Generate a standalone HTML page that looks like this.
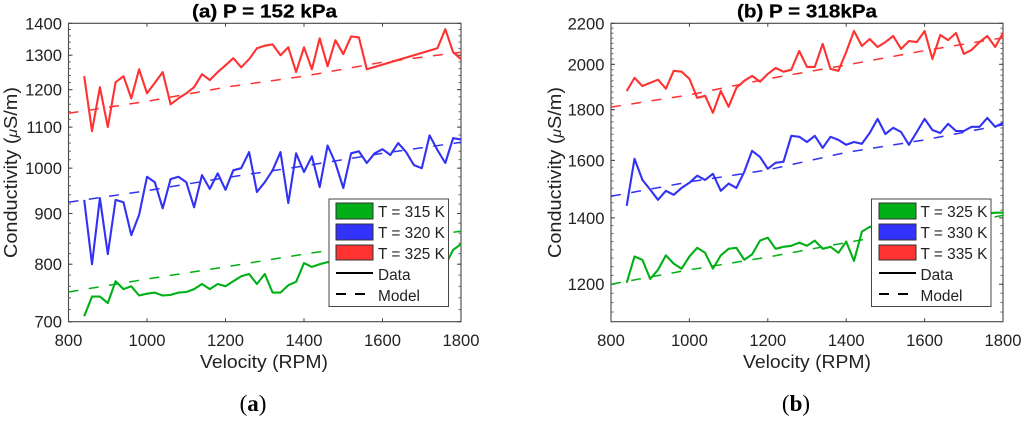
<!DOCTYPE html>
<html>
<head>
<meta charset="utf-8">
<title>Conductivity vs Velocity</title>
<style>
html,body{margin:0;padding:0;background:#fff;width:1024px;height:421px;overflow:hidden}
svg{display:block;font-family:"Liberation Sans",sans-serif}
text{fill:#222}
</style>
</head>
<body>
<svg id="fig" width="1024" height="421" viewBox="0 0 1024 421" xmlns="http://www.w3.org/2000/svg">
<defs><filter id="soft" x="-2%" y="-2%" width="104%" height="104%"><feGaussianBlur stdDeviation="0.35"/></filter></defs>
<g filter="url(#soft)">
<g id="panelA"></g>
<g id="panelB"></g>

<text x="192" y="17.5" font-size="18.5" font-weight="bold" textLength="145" lengthAdjust="spacingAndGlyphs" style="fill:#000;stroke:#000;stroke-width:0.25">(a) P = 152 kPa</text>
<text x="737" y="17.5" font-size="18.5" font-weight="bold" textLength="140" lengthAdjust="spacingAndGlyphs" style="fill:#000;stroke:#000;stroke-width:0.25">(b) P = 318kPa</text>

<text transform="translate(17,258) rotate(-90)" font-size="18" textLength="171" lengthAdjust="spacingAndGlyphs">Conductivity (<tspan font-style="italic" font-size="14">μ</tspan>S/m)</text>
<text transform="translate(561,258) rotate(-90)" font-size="18" textLength="171" lengthAdjust="spacingAndGlyphs">Conductivity (<tspan font-style="italic" font-size="14">μ</tspan>S/m)</text>

<text x="200" y="368" font-size="18" textLength="128" lengthAdjust="spacingAndGlyphs">Velocity (RPM)</text>
<text x="743" y="368" font-size="18" textLength="128" lengthAdjust="spacingAndGlyphs">Velocity (RPM)</text>

<text x="253" y="411" font-size="23" text-anchor="middle" style="font-family:'Liberation Serif',serif;fill:#000">(<tspan font-weight="bold">a</tspan>)</text>
<text x="796" y="411" font-size="23" text-anchor="middle" style="font-family:'Liberation Serif',serif;fill:#000">(<tspan font-weight="bold">b</tspan>)</text>

<g id="legendA">
<rect x="329" y="199" width="119.5" height="107.5" fill="#fff" stroke="#444" stroke-width="1"/>
<rect x="336" y="203" width="37" height="16" fill="#05b015" stroke="#333" stroke-width="1"/>
<rect x="336" y="224" width="37" height="16" fill="#3333ff" stroke="#333" stroke-width="1"/>
<rect x="336" y="245" width="37" height="15" fill="#ff3030" stroke="#333" stroke-width="1"/>
<text x="378" y="217" font-size="15.4">T = 315 K</text>
<text x="378" y="238" font-size="15.4">T = 320 K</text>
<text x="378" y="259" font-size="15.4">T = 325 K</text>
<line x1="336" y1="273" x2="373" y2="273" stroke="#000" stroke-width="2"/>
<text x="378" y="280" font-size="15.4">Data</text>
<line x1="336" y1="294" x2="366" y2="294" stroke="#000" stroke-width="2" stroke-dasharray="10 9"/>
<text x="378" y="301" font-size="15.4">Model</text>
</g>

<g id="legendB">
<rect x="871.5" y="199" width="119.5" height="107.5" fill="#fff" stroke="#444" stroke-width="1"/>
<rect x="879" y="203" width="37" height="16" fill="#05b015" stroke="#333" stroke-width="1"/>
<rect x="879" y="224" width="37" height="16" fill="#3333ff" stroke="#333" stroke-width="1"/>
<rect x="879" y="245" width="37" height="15" fill="#ff3030" stroke="#333" stroke-width="1"/>
<text x="920.5" y="217" font-size="15.4">T = 325 K</text>
<text x="920.5" y="238" font-size="15.4">T = 330 K</text>
<text x="920.5" y="259" font-size="15.4">T = 335 K</text>
<line x1="879" y1="273" x2="916" y2="273" stroke="#000" stroke-width="2"/>
<text x="920.5" y="280" font-size="15.4">Data</text>
<line x1="879" y1="294" x2="909" y2="294" stroke="#000" stroke-width="2" stroke-dasharray="10 9"/>
<text x="920.5" y="301" font-size="15.4">Model</text>
</g>
</g>
</svg>

<script>
const rpm = [840,860,880,900,920,940,960,980,1000,1020,1040,1060,1080,1100,1120,1140,1160,1180,1200,1220,1240,1260,1280,1300,1320,1340,1360,1380,1400,1420,1440,1460,1480,1500,1520,1540,1560,1580,1600,1620,1640,1660,1680,1700,1720,1740,1760,1780,1800];
const modelRpm = [800,1000,1200,1400,1600,1800];
const xTickLabels = [800,1000,1200,1400,1600,1800];

const yTicksA = [700,800,900,1000,1100,1200,1300,1400];
const yTicksB = [1200,1400,1600,1800,2000,2200];

const dataA315 = [709,742,742,731,769,755,760,744,747,749,744,745,749,750,755,764,755,764,760,769,778,782,764,782,749,749,762,768,802,795,800,804,null,null,null,null,null,null,null,null,null,null,null,null,null,null,798,827,838];
const dataA320 = [929,800,933,819,929,924,856,897,980,968,911,975,980,968,913,984,953,988,951,995,1000,1038,946,968,995,1038,922,1035,991,1028,957,1054,1012,955,1035,1040,1012,1035,1045,1031,1060,1038,1007,1000,1079,1043,1012,1072,1069];
const dataA325 = [1238,1090,1207,1100,1221,1238,1176,1258,1190,1219,1250,1160,1176,1190,1207,1244,1227,1250,1270,1291,1264,1288,1321,1329,1333,1300,1324,1250,1324,1258,1352,1267,1346,1303,1358,1355,1258,null,null,null,null,null,null,null,null,1321,1381,1309,1288];
const modelA315 = [750,773,795,819,841,864];
const modelA320 = [924,949,978,1005,1035,1062];
const modelA325 = [1136,1168,1207,1238,1279,1309];

const dataB325 = [1204,1280,1270,1215,1241,1283,1259,1244,1280,1306,1291,1244,1283,1303,1306,1270,1286,1328,1337,1303,1309,1312,1322,1312,1328,1303,1309,1291,1325,1267,1356,1371,null,null,null,null,null,null,null,null,null,null,null,null,null,null,null,1417,1417];
const dataB330 = [1440,1606,1529,1495,1460,1491,1477,1501,1519,1544,1529,1551,1491,1516,1501,1558,1636,1613,1569,1591,1595,1694,1690,1670,1694,1647,1690,1678,1659,1670,1663,1705,1762,1701,1726,1709,1659,1709,1762,1717,1705,1742,1713,1713,1730,1730,1766,1730,1746];
const dataB335 = [1880,1938,1902,1916,1930,1890,1970,1966,1934,1850,1859,1787,1880,1812,1894,1925,1947,1921,1956,1983,1966,1975,2063,1988,1988,2097,1979,1970,2058,2161,2087,2121,2082,2106,2136,2073,2111,2106,2161,2025,2141,2116,2151,2049,2068,2106,2136,2082,2151];
const modelB325 = [1200,1241,1278,1322,1365,1408];
const modelB330 = [1472,1522,1565,1630,1678,1738];
const modelB335 = [1811,1863,1934,1997,2065,2127];

const GREEN = '#05b015', BLUE = '#3030f5', RED = '#ff3030';
const NS = 'http://www.w3.org/2000/svg';

function make(tag, parent, attrs) {
  const el = document.createElementNS(NS, tag);
  for (const k in attrs) el.setAttribute(k, attrs[k]);
  parent.appendChild(el);
  return el;
}

function drawPanel(root, cfg) {
  const L = cfg.left, R = cfg.right, T = 23.3, B = 321.7;
  const sx = v => L + (v - 800) / 1000 * (R - L);
  const sy = v => B - Math.log(v / cfg.yMin) / Math.log(cfg.yMax / cfg.yMin) * (B - T);

  const axisColor = '#444';

  // plot frame
  const frame = make('rect', root, {x: L, y: T, width: R - L, height: B - T, fill: 'none', stroke: axisColor, 'stroke-width': 1.1});
  
  

  // y minor ticks
  for (let v = cfg.yMin; v <= cfg.yMax; v += cfg.minorStep) {
    for (const side of [[L, L + 2.5], [R, R - 2.5]]) {
      const t = make('line', root, {x1: side[0], x2: side[1], y1: sy(v), y2: sy(v), stroke: '#666', 'stroke-width': 1});
      
      
    }
  }

  // y major ticks + labels
  cfg.yTicks.forEach(v => {
    for (const side of [[L, L + 4], [R, R - 4]]) {
      const t = make('line', root, {x1: side[0], x2: side[1], y1: sy(v), y2: sy(v), stroke: axisColor, 'stroke-width': 1});
      
      
    }
    const lab = make('text', root, {x: L - 6.5, y: sy(v) + 6, 'font-size': 16.6, 'text-anchor': 'end'});
    
    
    lab.textContent = v;
  });

  // x ticks + labels
  xTickLabels.forEach(v => {
    for (const side of [[T, T + 3.5], [B, B - 3.5]]) {
      const t = make('line', root, {x1: sx(v), x2: sx(v), y1: side[0], y2: side[1], stroke: axisColor, 'stroke-width': 1});
      
      
    }
    const lab = make('text', root, {x: sx(v), y: 346, 'font-size': 16.6, 'text-anchor': 'middle'});
    
    
    lab.textContent = v;
  });

  // series
  cfg.series.forEach(s => {
    const mPts = modelRpm.map((r, i) => sx(r).toFixed(1) + ',' + sy(s.model[i]).toFixed(1)).join(' ');
    const m = make('polyline', root, {points: mPts, fill: 'none', stroke: s.color, 'stroke-width': 1.5, 'stroke-dasharray': '10 10.5'});
    
    

    const dPts = [];
    rpm.forEach((r, i) => {
      if (s.data[i] !== null) dPts.push(sx(r).toFixed(1) + ',' + sy(s.data[i]).toFixed(1));
    });
    const d = make('polyline', root, {points: dPts.join(' '), fill: 'none', stroke: s.color, 'stroke-width': 2.1, 'stroke-linejoin': 'round'});
    
    
  });
}

drawPanel(document.getElementById('panelA'), {
  left: 68.5, right: 461, yMin: 700, yMax: 1400, yTicks: yTicksA, minorStep: 20,
  series: [
    {name: '315k', color: GREEN, data: dataA315, model: modelA315},
    {name: '320k', color: BLUE, data: dataA320, model: modelA320},
    {name: '325k', color: RED, data: dataA325, model: modelA325}
  ]
});
drawPanel(document.getElementById('panelB'), {
  left: 611, right: 1003, yMin: 1100, yMax: 2200, yTicks: yTicksB, minorStep: 25,
  series: [
    {name: '325k', color: GREEN, data: dataB325, model: modelB325},
    {name: '330k', color: BLUE, data: dataB330, model: modelB330},
    {name: '335k', color: RED, data: dataB335, model: modelB335}
  ]
});
</script>
</body>
</html>
